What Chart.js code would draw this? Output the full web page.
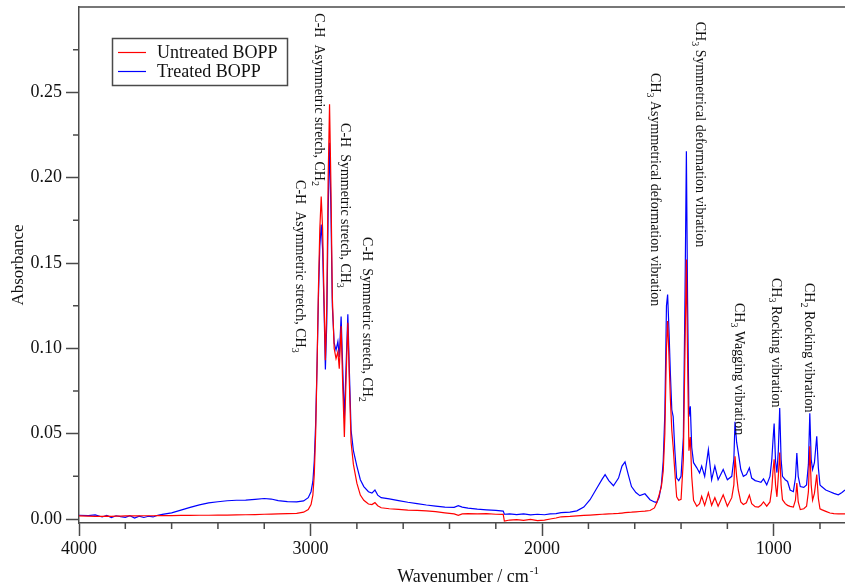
<!DOCTYPE html>
<html><head><meta charset="utf-8">
<script src="https://cdn.jsdelivr.net/npm/chart.js@4.4.1/dist/chart.umd.min.js"></script>
<style>html,body{margin:0;padding:0;background:#fff}#wrap{width:845px;height:587px;position:relative}</style>
</head><body><div id="wrap"><canvas id="c" width="845" height="587"></canvas></div>
<script>
const wavenumber = [4000,3960,3930,3900,3880,3860,3840,3820,3800,3780,3760,3740,3720,3700,3680,3660,3640,3600,3560,3520,3480,3440,3400,3360,3320,3280,3240,3200,3170,3140,3100,3060,3030,3010,2998,2990,2984,2978,2972,2966,2960,2954,2948,2942,2936,2930,2924,2918,2912,2906,2898,2890,2882,2876,2868,2861,2854,2846,2839,2832,2825,2815,2800,2785,2770,2750,2735,2722,2710,2695,2660,2620,2580,2540,2500,2460,2420,2380,2362,2345,2320,2280,2240,2200,2168,2163,2140,2110,2080,2050,2020,1990,1965,1940,1918,1880,1850,1820,1793,1764,1740,1728,1712,1692,1670,1655,1642,1628,1614,1595,1578,1556,1534,1515,1505,1495,1485,1477,1470,1463,1458,1452,1446,1440,1434,1427,1419,1410,1400,1390,1383,1377,1372,1366,1360,1354,1346,1332,1320,1311,1298,1282,1268,1254,1240,1218,1200,1181,1172,1167,1160,1153,1142,1131,1118,1105,1095,1080,1066,1055,1044,1030,1016,1008,1003,998,992,986,980,974,968,962,950,940,929,915,906,900,894,885,870,858,850,844,838,832,824,814,807,800,793,775,757,740,721,705,692];
const untreated = [0.0018,0.0017,0.0016,0.0016,0.0017,0.0016,0.0017,0.0017,0.0018,0.0018,0.0018,0.0018,0.0019,0.0019,0.0019,0.0020,0.0020,0.0020,0.0021,0.0021,0.0022,0.0022,0.0023,0.0023,0.0024,0.0025,0.0026,0.0028,0.0029,0.0030,0.0031,0.0033,0.0040,0.0055,0.0085,0.0140,0.0260,0.0500,0.0900,0.1350,0.1700,0.1890,0.1700,0.1300,0.0930,0.1250,0.2000,0.2430,0.1950,0.1300,0.1000,0.0940,0.0980,0.0880,0.1130,0.0780,0.0480,0.0850,0.1150,0.0780,0.0450,0.0320,0.0210,0.0140,0.0110,0.0088,0.0085,0.0096,0.0078,0.0066,0.0060,0.0056,0.0052,0.0050,0.0048,0.0043,0.0036,0.0030,0.0022,0.0030,0.0032,0.0030,0.0031,0.0028,0.0027,-0.0012,-0.0006,-0.0004,-0.0008,-0.0002,-0.0010,-0.0006,0.0000,0.0006,0.0013,0.0015,0.0018,0.0021,0.0023,0.0026,0.0028,0.0029,0.0030,0.0031,0.0033,0.0035,0.0037,0.0039,0.0040,0.0042,0.0044,0.0046,0.0050,0.0065,0.0095,0.0140,0.0190,0.0280,0.0500,0.1000,0.1160,0.0950,0.0700,0.0520,0.0420,0.0280,0.0130,0.0110,0.0115,0.0350,0.1000,0.1520,0.0950,0.0400,0.0480,0.0250,0.0110,0.0074,0.0090,0.0133,0.0080,0.0154,0.0080,0.0125,0.0075,0.0142,0.0075,0.0125,0.0200,0.0367,0.0250,0.0170,0.0100,0.0085,0.0095,0.0140,0.0090,0.0072,0.0070,0.0080,0.0100,0.0075,0.0100,0.0180,0.0280,0.0350,0.0200,0.0130,0.0250,0.0390,0.0200,0.0113,0.0090,0.0080,0.0074,0.0070,0.0110,0.0210,0.0100,0.0055,0.0060,0.0075,0.0160,0.0426,0.0200,0.0110,0.0150,0.0260,0.0120,0.0060,0.0055,0.0045,0.0035,0.0032,0.0030,0.0030,0.0030];
const treated = [0.0022,0.0020,0.0024,0.0012,0.0021,0.0008,0.0019,0.0014,0.0010,0.0020,0.0006,0.0017,0.0009,0.0016,0.0012,0.0022,0.0027,0.0036,0.0052,0.0068,0.0083,0.0094,0.0101,0.0107,0.0110,0.0111,0.0115,0.0120,0.0117,0.0108,0.0102,0.0100,0.0106,0.0125,0.0160,0.0220,0.0340,0.0560,0.0900,0.1300,0.1600,0.1725,0.1580,0.1250,0.0876,0.1150,0.1800,0.2205,0.1800,0.1250,0.1030,0.0990,0.1040,0.0950,0.1186,0.0880,0.0590,0.0920,0.1200,0.0850,0.0520,0.0400,0.0310,0.0230,0.0190,0.0160,0.0152,0.0170,0.0140,0.0125,0.0118,0.0108,0.0098,0.0090,0.0082,0.0076,0.0070,0.0068,0.0078,0.0070,0.0064,0.0058,0.0054,0.0050,0.0046,0.0028,0.0030,0.0026,0.0030,0.0024,0.0028,0.0025,0.0030,0.0032,0.0037,0.0040,0.0048,0.0070,0.0113,0.0180,0.0235,0.0260,0.0225,0.0195,0.0240,0.0310,0.0335,0.0260,0.0190,0.0155,0.0137,0.0148,0.0113,0.0100,0.0097,0.0125,0.0200,0.0340,0.0620,0.1250,0.1315,0.1100,0.0850,0.0640,0.0600,0.0406,0.0240,0.0225,0.0250,0.0480,0.1300,0.2155,0.1300,0.0600,0.0660,0.0420,0.0330,0.0300,0.0270,0.0310,0.0250,0.0406,0.0230,0.0310,0.0230,0.0290,0.0230,0.0250,0.0350,0.0570,0.0450,0.0390,0.0290,0.0250,0.0260,0.0300,0.0240,0.0225,0.0220,0.0215,0.0235,0.0200,0.0250,0.0350,0.0460,0.0560,0.0340,0.0272,0.0400,0.0650,0.0350,0.0250,0.0230,0.0220,0.0170,0.0160,0.0240,0.0387,0.0250,0.0190,0.0185,0.0200,0.0320,0.0620,0.0350,0.0290,0.0330,0.0484,0.0300,0.0200,0.0190,0.0170,0.0160,0.0150,0.0142,0.0155,0.0170];

const seriesNames = ['Untreated BOPP', 'Treated BOPP'];
const seriesColors = ['#ff0000', '#0000ff'];
const yTicks = [0, 0.05, 0.10, 0.15, 0.20, 0.25];
const yMinorTicks = [0.025, 0.075, 0.125, 0.175, 0.225, 0.275];
const xTicks = [4000, 3000, 2000, 1000];
const xMinorTicks = [3800, 3600, 3400, 3200, 2800, 2600, 2400, 2200, 1800, 1600, 1400, 1200, 800];
const xTitle = ['Wavenumber / cm', '-1'];
const yTitle = 'Absorbance';

// band assignments: text parts ([text, isSubscript]) and anchor (wavenumber of baseline, absorbance of text start)
const bandLabels = [
  [['C-H  Asymmetric stretch, CH', 0], ['3', 1]],
  [['C-H  Asymmetric stretch, CH', 0], ['2', 1]],
  [['C-H  Symmetric stretch, CH', 0], ['3', 1]],
  [['C-H  Symmetric stretch, CH', 0], ['2', 1]],
  [['CH', 0], ['3', 1], [' Asymmetrical deformation vibration', 0]],
  [['CH', 0], ['3', 1], [' Symmetrical deformation vibration', 0]],
  [['CH', 0], ['3', 1], [' Wagging vibration', 0]],
  [['CH', 0], ['3', 1], [' Rocking vibration', 0]],
  [['CH', 0], ['2', 1], [' Rocking vibration', 0]]
];
const bandAnchorWn = [3063, 2979, 2870, 2774, 1531, 1337, 1168, 1007, 865];
const bandAnchorAbs = [0.1986, 0.2963, 0.2320, 0.1652, 0.2613, 0.2914, 0.1266, 0.1412, 0.1383];

const SERIF = "'Liberation Serif', 'Times New Roman', serif";
const AXIS = '#4a4a4a';

const decorPlugin = {
  id: 'decor',
  afterDraw(chart) {
    const ctx = chart.ctx, a = chart.chartArea;
    const xs = chart.scales.x, ys = chart.scales.y;
    ctx.save();
    ctx.strokeStyle = AXIS; ctx.lineWidth = 1.5;
    ctx.beginPath(); ctx.moveTo(a.left, a.top); ctx.lineTo(a.right, a.top); ctx.stroke();
    ctx.beginPath();
    yMinorTicks.forEach(v => { const p = ys.getPixelForValue(v); ctx.moveTo(a.left - 6, p); ctx.lineTo(a.left, p); });
    xMinorTicks.forEach(v => { const p = xs.getPixelForValue(v); ctx.moveTo(p, a.bottom); ctx.lineTo(p, a.bottom + 6); });
    ctx.stroke();
    // legend
    ctx.fillStyle = '#fff';
    ctx.fillRect(112.5, 38.5, 175, 47);
    ctx.strokeStyle = AXIS; ctx.lineWidth = 1.5;
    ctx.strokeRect(112.5, 38.5, 175, 47);
    ctx.font = '18px ' + SERIF; ctx.textBaseline = 'middle'; ctx.textAlign = 'left';
    seriesNames.forEach((n, i) => {
      const y = 52.5 + i * 19;
      ctx.strokeStyle = seriesColors[i]; ctx.lineWidth = 1.2;
      ctx.beginPath(); ctx.moveTo(118, y); ctx.lineTo(146, y); ctx.stroke();
      ctx.fillStyle = '#111'; ctx.fillText(n, 157, y + 1);
    });
    // band labels
    ctx.fillStyle = '#111'; ctx.textBaseline = 'alphabetic';
    bandLabels.forEach((parts, i) => {
      const px = xs.getPixelForValue(bandAnchorWn[i]);
      const py = ys.getPixelForValue(bandAnchorAbs[i]);
      ctx.save();
      ctx.translate(px, py); ctx.rotate(Math.PI / 2);
      let off = 0;
      parts.forEach(([t, sub]) => {
        ctx.font = (sub ? '10px ' : '14px ') + SERIF;
        ctx.fillText(t, off, sub ? 3.5 : 0);
        off += ctx.measureText(t).width;
      });
      ctx.restore();
    });
    // axis titles
    ctx.font = '17px ' + SERIF; ctx.textAlign = 'center';
    ctx.save(); ctx.translate(23, (a.top + a.bottom) / 2); ctx.rotate(-Math.PI / 2);
    ctx.fillText(yTitle, 0, 0); ctx.restore();
    ctx.font = '18px ' + SERIF; ctx.textAlign = 'left';
    const w0 = ctx.measureText(xTitle[0]).width;
    const x0 = 463 - w0 / 2;
    ctx.fillText(xTitle[0], x0, 582);
    ctx.font = '11px ' + SERIF;
    ctx.fillText(xTitle[1], x0 + w0 + 1, 574);
    ctx.restore();
  }
};

const points = ys => wavenumber.map((w, i) => ({ x: w, y: ys[i] }));

new Chart(document.getElementById('c'), {
  type: 'line',
  data: {
    datasets: [
      { label: seriesNames[0], data: points(untreated), borderColor: seriesColors[0], borderWidth: 1.2, pointRadius: 0, tension: 0, fill: false },
      { label: seriesNames[1], data: points(treated), borderColor: seriesColors[1], borderWidth: 1.2, pointRadius: 0, tension: 0, fill: false }
    ]
  },
  options: {
    responsive: false, animation: false, devicePixelRatio: 1,
    layout: { padding: { top: 7, right: 0, left: 0, bottom: 0 } },
    plugins: { legend: { display: false }, tooltip: { enabled: false } },
    scales: {
      x: {
        type: 'linear', reverse: true, min: 692, max: 4000,
        afterBuildTicks: s => { s.ticks = xTicks.map(v => ({ value: v })); },
        afterFit: s => { s.height = 64; s.paddingLeft = 0; s.paddingRight = 0; },
        ticks: { font: { family: SERIF, size: 18 }, color: '#111', padding: 2, maxRotation: 0, autoSkip: false, callback: v => String(v) },
        grid: { drawOnChartArea: false, drawTicks: true, tickLength: 13, tickColor: AXIS, tickWidth: 1.5 },
        border: { display: true, color: AXIS, width: 1.5 }
      },
      y: {
        type: 'linear', min: -0.00234, max: 0.30,
        afterBuildTicks: s => { s.ticks = yTicks.map(v => ({ value: v })); },
        afterFit: s => { s.width = 79; s.paddingTop = 0; s.paddingBottom = 0; },
        ticks: { font: { family: SERIF, size: 18 }, color: '#111', padding: 4, autoSkip: false, callback: v => Number(v).toFixed(2) },
        grid: { drawOnChartArea: false, drawTicks: true, tickLength: 13, tickColor: AXIS, tickWidth: 1.5 },
        border: { display: true, color: AXIS, width: 1.5 }
      }
    }
  },
  plugins: [decorPlugin]
});
</script></body></html>
